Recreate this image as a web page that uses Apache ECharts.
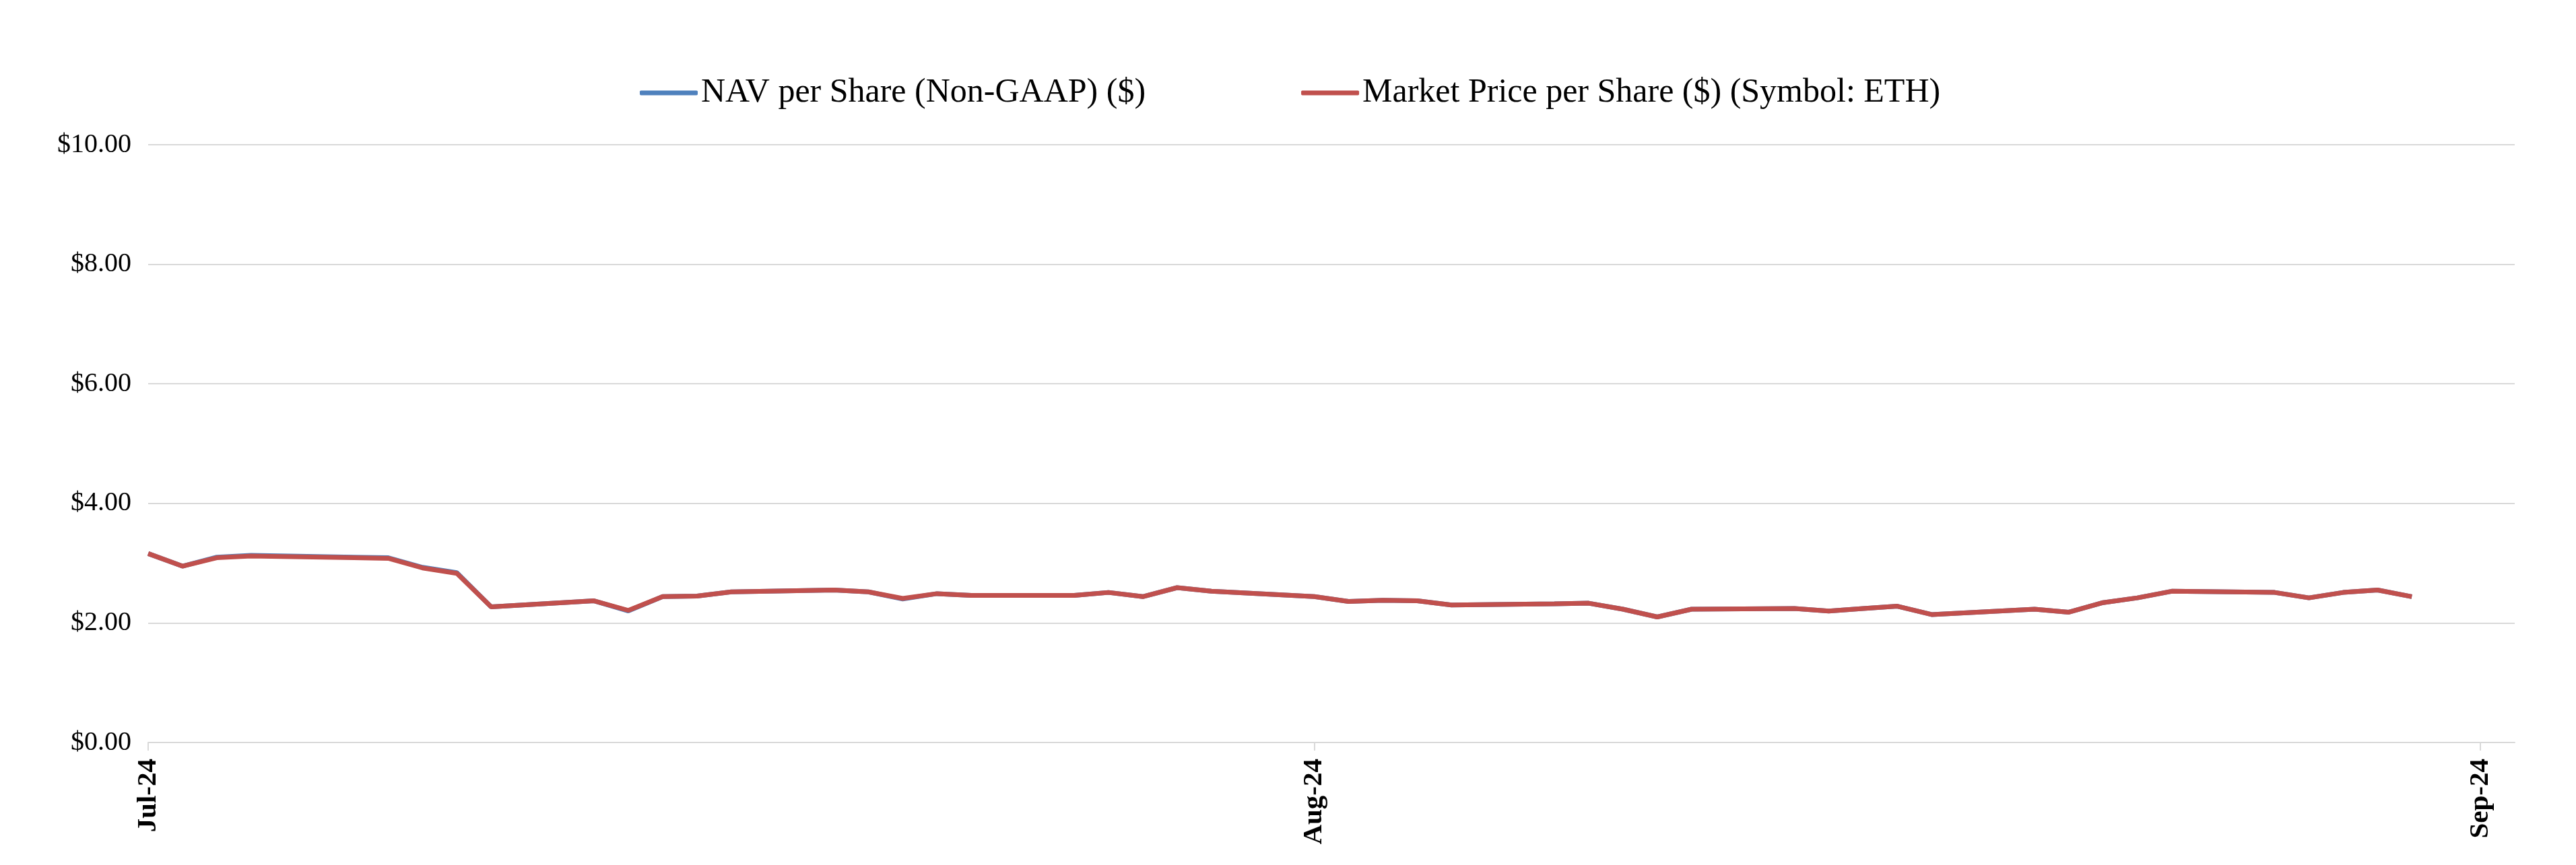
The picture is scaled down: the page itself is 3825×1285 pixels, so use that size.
<!DOCTYPE html>
<html>
<head>
<meta charset="utf-8">
<script src="https://cdn.jsdelivr.net/npm/echarts@6/dist/echarts.min.js"></script>
<style>
  html, body { margin: 0; padding: 0; background: #ffffff; }
  #chart { width: 3825px; height: 1285px; }
</style>
</head>
<body>
<div id="chart"></div>
<script>
// ---- Data ----
const axisStart = '2024-07-02';
const axisEnd = '2024-09-09';

const tradeDates = [
  '2024-07-02','2024-07-03','2024-07-04','2024-07-05',
  '2024-07-08','2024-07-09','2024-07-10','2024-07-11','2024-07-12',
  '2024-07-15','2024-07-16','2024-07-17','2024-07-18','2024-07-19',
  '2024-07-22','2024-07-23','2024-07-24','2024-07-25','2024-07-26',
  '2024-07-29','2024-07-30','2024-07-31','2024-08-01','2024-08-02',
  '2024-08-05','2024-08-06','2024-08-07','2024-08-08','2024-08-09',
  '2024-08-12','2024-08-13','2024-08-14','2024-08-15','2024-08-16',
  '2024-08-19','2024-08-20','2024-08-21','2024-08-22','2024-08-23',
  '2024-08-26','2024-08-27','2024-08-28','2024-08-29','2024-08-30',
  '2024-09-02','2024-09-03','2024-09-04','2024-09-05','2024-09-06'
];

const navPerShare = [
  3.16, 2.95, 3.10, 3.13,
  3.10, 3.09, 2.93, 2.84, 2.27,
  2.37, 2.20, 2.44, 2.45, 2.52,
  2.55, 2.52, 2.40, 2.49, 2.46,
  2.46, 2.51, 2.44, 2.59, 2.53,
  2.44, 2.36, 2.38, 2.37, 2.30,
  2.32, 2.33, 2.23, 2.10, 2.23,
  2.24, 2.20, 2.24, 2.28, 2.14,
  2.23, 2.18, 2.34, 2.42, 2.53,
  2.51, 2.42, 2.51, 2.55, 2.44
];

const marketPrice = [
  3.16, 2.95, 3.09, 3.12,
  3.09, 3.08, 2.92, 2.83, 2.27,
  2.37, 2.21, 2.44, 2.45, 2.52,
  2.55, 2.52, 2.41, 2.49, 2.46,
  2.46, 2.51, 2.44, 2.59, 2.53,
  2.44, 2.36, 2.38, 2.37, 2.30,
  2.32, 2.33, 2.23, 2.10, 2.23,
  2.24, 2.20, 2.24, 2.28, 2.14,
  2.23, 2.18, 2.34, 2.42, 2.53,
  2.51, 2.42, 2.51, 2.55, 2.44
];

const yTicks = [0, 2, 4, 6, 8, 10];
const seriesNames = ['NAV per Share (Non-GAAP) ($)', 'Market Price per Share ($) (Symbol: ETH)'];
const monthNames = ['Jan','Feb','Mar','Apr','May','Jun','Jul','Aug','Sep','Oct','Nov','Dec'];

// ---- Build calendar-day categories (Excel-style date categories) ----
function isoDate(d) {
  const m = String(d.getUTCMonth() + 1).padStart(2, '0');
  const dd = String(d.getUTCDate()).padStart(2, '0');
  return d.getUTCFullYear() + '-' + m + '-' + dd;
}
const categories = [];
for (let d = new Date(axisStart + 'T00:00:00Z'); d <= new Date(axisEnd + 'T00:00:00Z'); d.setUTCDate(d.getUTCDate() + 1)) {
  categories.push(isoDate(d));
}
function toSeries(values) {
  const map = {};
  tradeDates.forEach((dt, i) => { map[dt] = values[i]; });
  return categories.map(c => (c in map ? map[c] : null));
}

const chart = echarts.init(document.getElementById('chart'), null, { renderer: 'canvas' });
const font = '"Liberation Serif", "Times New Roman", serif';

chart.setOption({
  backgroundColor: '#ffffff',
  animation: false,
  legend: {
    data: seriesNames,
    left: 945,
    top: 108,
    icon: 'roundRect',
    itemWidth: 86,
    itemHeight: 7,
    itemGap: 231,
    textStyle: { fontFamily: font, fontSize: 50, color: '#000000' }
  },
  grid: { left: 220, right: 91, top: 215, bottom: 182, containLabel: false },
  xAxis: {
    type: 'category',
    data: categories,
    boundaryGap: false,
    axisLine: { show: true, lineStyle: { color: '#D9D9D9', width: 2 } },
    axisTick: { show: true, interval: 33, length: 12, lineStyle: { color: '#D9D9D9', width: 2 } },
    axisLabel: {
      interval: 33,
      rotate: 90,
      margin: 24,
      fontFamily: font,
      fontSize: 41,
      fontWeight: 'bold',
      color: '#000000',
      formatter: function (v) {
        const p = v.split('-');
        return monthNames[parseInt(p[1], 10) - 1] + '-' + p[0].slice(2);
      }
    },
    splitLine: { show: false }
  },
  yAxis: {
    type: 'value',
    min: yTicks[0],
    max: yTicks[yTicks.length - 1],
    interval: 2,
    axisLine: { show: false },
    axisTick: { show: false },
    axisLabel: {
      margin: 25,
      fontFamily: font,
      fontSize: 40,
      color: '#000000',
      formatter: function (v) { return '$' + v.toFixed(2); }
    },
    splitLine: { show: true, lineStyle: { color: '#D9D9D9', width: 2 } }
  },
  series: [
    {
      name: seriesNames[0],
      type: 'line',
      data: toSeries(navPerShare),
      connectNulls: true,
      showSymbol: false,
      symbol: 'none',
      lineStyle: { color: '#4F81BD', width: 7 },
      itemStyle: { color: '#4F81BD' },
      z: 2
    },
    {
      name: seriesNames[1],
      type: 'line',
      data: toSeries(marketPrice),
      connectNulls: true,
      showSymbol: false,
      symbol: 'none',
      lineStyle: { color: '#C0504D', width: 7 },
      itemStyle: { color: '#C0504D' },
      z: 3
    }
  ]
});
</script>
</body>
</html>
